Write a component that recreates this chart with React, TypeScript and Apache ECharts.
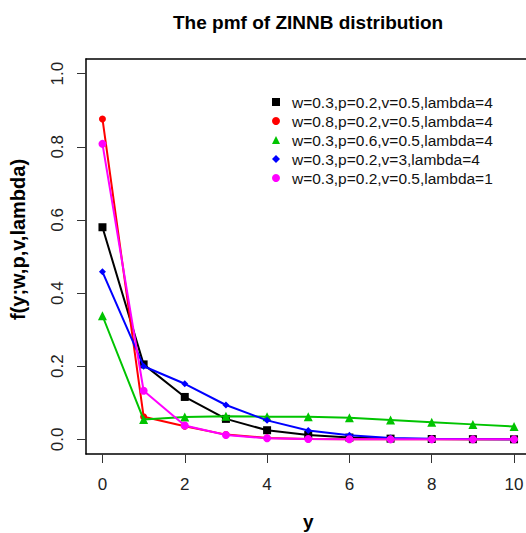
import React, { useEffect, useRef } from "react";
import * as echarts from "echarts";

const xValues = [0, 1, 2, 3, 4, 5, 6, 7, 8, 9, 10];
const seriesNames = [
  "w=0.3,p=0.2,v=0.5,lambda=4",
  "w=0.8,p=0.2,v=0.5,lambda=4",
  "w=0.3,p=0.6,v=0.5,lambda=4",
  "w=0.3,p=0.2,v=3,lambda=4",
  "w=0.3,p=0.2,v=0.5,lambda=1",
];
const blackVals = [0.58, 0.205, 0.116, 0.056, 0.025, 0.012, 0.005, 0.002, 0.001, 0.0005, 0.0002];
const redVals = [0.876, 0.062, 0.036, 0.013, 0.004, 0.001, 0.0005, 0.0002, 0.0001, 0, 0];
const greenVals = [0.338, 0.054, 0.061, 0.063, 0.062, 0.062, 0.059, 0.053, 0.047, 0.041, 0.035];
const blueVals = [0.458, 0.2, 0.152, 0.094, 0.052, 0.024, 0.011, 0.004, 0.002, 0.001, 0.0005];
const pinkVals = [0.808, 0.133, 0.038, 0.012, 0.003, 0.001, 0.0002, 0, 0, 0, 0];
const xTicks = [0, 2, 4, 6, 8, 10];
const yTicks = [0, 0.2, 0.4, 0.6, 0.8, 1.0];

const colors = ["#000000", "#ff0000", "#00c400", "#0000ff", "#ff00ff"];
const symbols = ["rect", "circle", "triangle", "diamond", "circle"];
const symbolSizes = [8, 7, 9, 7, 8];
const allVals = [blackVals, redVals, greenVals, blueVals, pinkVals];

export default function App() {
  const ref = useRef<HTMLDivElement>(null);
  useEffect(() => {
    if (!ref.current) return;
    const chart = echarts.init(ref.current, null, { renderer: "svg" });
    const font = "Liberation Sans, Arial, sans-serif";
    const boxLine = { show: true, onZero: false, lineStyle: { color: "#000", width: 1.5 } };
    chart.setOption({
      animation: false,
      backgroundColor: "#ffffff",
      textStyle: { fontFamily: font },
      title: {
        text: "The pmf of ZINNB distribution",
        left: 168,
        top: 8,
        textStyle: { fontFamily: font, fontSize: 19, fontWeight: "bold", color: "#000" },
      },
      grid: {
        left: 86,
        top: 59,
        width: 444.5,
        height: 395,
        containLabel: false,
        outerBoundsMode: "none",
      },
      legend: {
        orient: "vertical",
        left: 267,
        top: 89,
        itemWidth: 8,
        itemHeight: 8,
        itemGap: 3,
        textStyle: { fontFamily: font, fontSize: 15.5, color: "#111", padding: [0, 0, 0, 7] },
        data: seriesNames.map((n, i) => ({ name: n, icon: symbols[i] })),
      },
      xAxis: [
        {
          type: "value",
          min: -0.4,
          max: 10.4,
          position: "bottom",
          name: "y",
          nameLocation: "middle",
          nameGap: 58,
          nameTextStyle: { fontFamily: font, fontSize: 19, fontWeight: "bold", color: "#000" },
          axisLine: boxLine,
          splitLine: { show: false },
          axisTick: { show: true, length: 9, lineStyle: { color: "#333" }, customValues: xTicks },
          axisLabel: {
            fontFamily: font,
            fontSize: 17,
            color: "#222",
            margin: 22,
            customValues: xTicks,
            formatter: (v: number) => String(v),
          },
        },
        {
          type: "value",
          min: -0.4,
          max: 10.4,
          position: "top",
          axisLine: boxLine,
          axisTick: { show: false },
          axisLabel: { show: false },
          splitLine: { show: false },
        },
      ],
      yAxis: [
        {
          type: "value",
          min: -0.04,
          max: 1.04,
          position: "left",
          name: "f(y;w,p,v,lambda)",
          nameLocation: "middle",
          nameRotate: 90,
          nameGap: 58,
          nameTextStyle: {
            fontFamily: font,
            fontSize: 20,
            fontWeight: "bold",
            color: "#000",
            padding: [0, 0, 0, 34],
          },
          axisLine: boxLine,
          splitLine: { show: false },
          axisTick: { show: true, length: 9, lineStyle: { color: "#333" }, customValues: yTicks },
          axisLabel: {
            fontFamily: font,
            fontSize: 17,
            color: "#222",
            rotate: 90,
            margin: 20,
            customValues: yTicks,
            formatter: (v: number) => v.toFixed(1),
          },
        },
        {
          type: "value",
          min: -0.04,
          max: 1.04,
          position: "right",
          axisLine: boxLine,
          axisTick: { show: false },
          axisLabel: { show: false },
          splitLine: { show: false },
        },
      ],
      series: allVals.map((vals, i) => ({
        name: seriesNames[i],
        type: "line",
        xAxisIndex: 0,
        yAxisIndex: 0,
        data: xValues.map((x, j) => [x, vals[j]]),
        symbol: symbols[i],
        symbolSize: symbolSizes[i],
        showAllSymbol: true,
        lineStyle: { color: colors[i], width: 2 },
        itemStyle: { color: colors[i] },
        z: 2 + i,
      })),
    });
    return () => chart.dispose();
  }, []);
  return (
    <div
      ref={ref}
      style={{ position: "fixed", left: 0, top: 0, width: 526, height: 533 }}
    />
  );
}
